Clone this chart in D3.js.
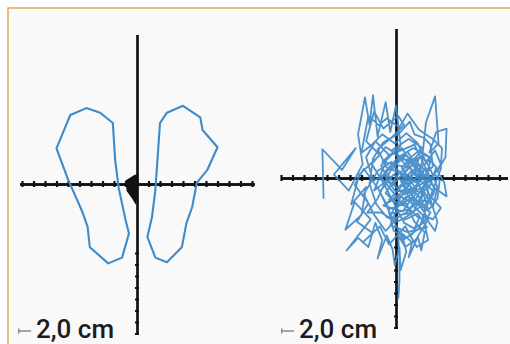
<!DOCTYPE html>
<html>
<head>
<meta charset="utf-8">
<script src="https://cdn.jsdelivr.net/npm/d3@7"></script>
<style>
  body { margin: 0; background: #fff; }
  svg { display: block; }
</style>
</head>
<body>
<svg id="chart" width="510" height="344"></svg>
<script>
// outlines of both feet, in cm-grid units (1 unit = one axis tick)
const leftFoot = [
  [-4.4, 6.6], [-5.8, 6.0], [-7.0, 3.1], [-6.0, 0.4], [-4.8, -2.3], [-4.3, -3.7],
  [-4.1, -5.5], [-2.5, -6.9], [-1.3, -6.4], [-0.7, -4.3], [-1.0, -3.1], [-1.6, -0.3],
  [-1.9, 2.1], [-2.1, 5.3], [-3.2, 6.2]
];
const rightFoot = [
  [4.0, 6.8], [5.5, 5.8], [5.7, 4.7], [7.0, 3.2], [6.1, 1.2], [5.2, 0.1], [4.8, -2.0],
  [4.3, -3.4], [3.9, -5.5], [2.6, -6.8], [1.6, -6.4], [0.9, -4.6], [1.3, -2.9],
  [1.6, -0.5], [2.0, 5.3], [2.6, 6.2]
];
// centre of pressure blob between the feet
const copBlob = [[-0.2, 0.8], [-1.0, 0.3], [-0.9, -0.6], [-0.4, -1.3], [-0.1, -1.8], [0.1, -0.6], [0.1, 0.8]];

// sway trace of the right panel
const swayTrace = [
  [-6.3,-1.8],[-6.4,2.5],[-4.7,0.7],[-3.5,2.6],[-5.4,0.3],[-4.1,-1.1],[-2.9,1.2],[-3.3,3.8],[-2.7,7.0],[-2.3,4.6],
  [-2.0,7.2],[-1.6,3.6],[-0.9,6.6],[-0.5,4.0],[0.0,6.3],[0.4,2.8],[-1.2,1.4],[1.1,0.9],[-0.3,-0.6],[2.0,1.7],
  [0.8,-1.3],[2.6,-0.3],[1.0,2.3],[-1.3,0.1],[0.4,-2.1],[1.9,-1.0],[-0.6,-1.9],[1.5,0.4],[3.0,1.6],[2.2,-1.9],
  [0.2,0.6],[-1.9,-1.1],[-0.7,1.9],[1.6,2.9],[2.9,0.2],[1.2,-2.7],[-0.4,-3.1],[0.9,-0.8],[2.4,-2.9],[3.3,-1.3],
  [1.4,1.2],[-0.9,2.7],[-2.1,1.2],[-1.0,-0.6],[0.6,-3.7],[1.9,-3.1],[2.7,-4.3],[1.0,-4.7],[-0.5,-4.1],[0.2,-2.4],
  [1.6,-1.6],[2.2,1.0],[2.6,4.8],[3.4,7.1],[3.7,3.0],[2.9,2.2],[3.5,4.0],[4.4,4.3],[4.3,1.8],[3.6,0.6],
  [4.2,-0.4],[4.4,-1.6],[3.4,-0.9],[2.3,0.5],[3.1,-2.2],[3.6,-3.8],[3.4,-4.6],[2.6,-3.5],[1.5,-2.4],[0.4,-0.2],
  [1.8,0.9],[0.9,2.0],[-0.2,1.0],[1.3,-0.4],[2.5,0.8],[1.7,-0.9],[0.5,0.9],[1.4,1.9],[2.3,2.6],[1.1,3.4],
  [-0.4,2.4],[0.7,1.3],[2.0,0.2],[0.3,-1.4],[-1.1,-2.4],[0.6,-2.9],[1.3,-1.9],[2.6,-2.0],[1.9,-0.3],[0.8,0.3],
  [-0.8,0.9],[-1.6,2.5],[-0.5,3.4],[0.7,4.6],[0.2,5.4],[-1.1,4.3],[-1.9,5.8],[-2.6,3.2],[-1.4,2.0],[-3.2,0.3],
  [-3.9,-2.3],[-2.6,-0.8],[-3.0,-3.2],[-4.4,-4.5],[-3.6,-2.1],[-2.2,-3.6],[-4.3,-6.3],[-3.3,-5.2],[-2.4,-6.0],[-1.8,-3.9],
  [-1.2,-5.4],[-1.6,-7.0],[-0.8,-5.0],[-0.3,-6.2],[-0.1,-7.6],[0.3,-6.0],[0.4,-8.0],[0.9,-6.4],[0.5,-4.8],[1.4,-5.6],
  [1.1,-6.9],[1.9,-5.1],[2.2,-6.3],[2.5,-4.7],[1.6,-3.8],[0.9,-2.2],[-0.6,-2.7],[-1.4,-1.2],[-0.2,0.3],[1.0,-0.6],
  [2.1,-1.3],[2.9,-0.8],[3.5,0.9],[2.7,2.0],[1.5,2.6],[0.2,1.8],[-0.9,0.6],[0.1,-0.9],[1.2,0.1],[2.0,1.2],
  [2.8,-1.4],[2.1,-2.5],[1.0,-3.3],[0.1,-3.8],[-0.8,-3.4],[-1.7,-2.3],[-2.3,-0.5],[-2.0,1.7],[-1.1,3.1],[0.3,3.9],
  [1.2,4.9],[1.6,3.8],[2.4,3.5],[3.0,2.9],[3.2,1.0],[2.2,-0.1],[1.3,0.6],[0.6,-0.4],[1.7,-2.0],[3.0,-3.0],
  [2.4,-3.9],[1.6,-4.4],[0.7,-3.9],[0.0,-2.6],[0.9,-1.6],[2.1,-2.1],[2.9,-2.7],[3.6,-1.8],[3.8,-0.2],[3.3,0.4],
  [2.5,-0.6],[1.6,0.3],[0.9,1.5],[-0.2,2.2],[-1.3,1.1],[-0.6,-0.3],[0.4,-1.1],[1.5,-0.9],[2.6,0.3],[3.1,1.7],
  [2.1,2.2],[1.0,1.1],[0.1,0.2],[-0.9,-1.3],[-0.2,-2.0],[1.1,-2.6],[2.0,-3.5],[1.4,-4.9],[0.6,-5.4],
  [-1.5,-1.0],[-2.8,0.8],[-3.6,-0.6],[-2.4,-2.2],[-3.4,-3.8],[-2.0,-4.8],[-2.9,-5.6],[-1.4,-4.2],[-0.6,-5.8],[0.8,-4.2],
  [1.8,-6.0],[2.8,-5.4],[2.3,-3.2],[3.2,-3.6],[3.9,-2.6],[3.0,-1.6],[3.9,0.8],[4.0,2.6],[3.2,3.4],[2.0,4.2],
  [1.0,5.6],[0.3,4.4],[-0.8,5.2],[-1.5,4.6],[-2.4,5.4],[-3.0,2.2],[-2.2,2.8],[-1.2,3.8],[-0.1,3.0],[0.9,3.9],
  [1.9,3.0],[2.6,1.4],[3.4,2.4],[3.9,1.2],[3.0,-0.2],[2.2,-0.9],[1.1,-1.2],[-0.1,-1.1],[-1.0,0.2],[-2.0,-0.2],
  [-2.6,1.8],[-1.8,3.2],[-0.6,2.0],[0.5,2.6],[1.3,1.4],[2.2,1.9],[2.9,1.0],[3.6,-0.8],[3.2,-2.6],[2.4,-1.1],
  [1.5,-3.0],[0.4,-3.2],[-0.9,-4.6],[-1.9,-3.2],[-2.8,-1.4],[-1.6,0.6],[-0.4,1.4],[0.6,0.1],[1.8,-0.4],[2.9,-1.9],
  [2.0,-4.4],[0.9,-5.2],[-0.2,-4.6],[-0.8,-2.2],[0.4,-1.6],[1.4,-2.2],[2.4,-2.5],[3.4,-1.0],[2.6,0.6],[1.6,1.6],
  [0.4,1.6],[-0.5,0.6],[-1.6,-1.8],[-2.5,-3.0],[-1.3,-3.0],[-0.3,-3.6],[0.9,-3.0],[1.9,-2.0],[2.8,-3.6],[1.7,-5.4],
  [0.8,-6.0],[0.2,-5.0],[0.3,-7.0],[0.3,-9.0],[0.2,-10.5]
];

const tickUnits = d3.range(-10, 11);
const vTickUnits = d3.range(-13, 14);
const scaleLabel = "2,0 cm";

const svg = d3.select("#chart");
const blue = "#3f8ac9";

// frame
svg.append("rect").attr("x", 8).attr("y", 8).attr("width", 510).attr("height", 344)
  .attr("fill", "#f9f9f9").attr("stroke", "#e2aa5c").attr("stroke-width", 1.5);

const unit = 11.5;
const panels = [
  { cx: 137, cy: 184, xDom: [-10.2, 10.2], yDom: [-13, 13], label: 18 },
  { cx: 396, cy: 178, xDom: [-10, 9.7], yDom: [-13, 13], label: 281 }
];

panels.forEach((p, i) => {
  p.x = d3.scaleLinear().domain(p.xDom).range([p.cx + p.xDom[0] * unit, p.cx + p.xDom[1] * unit]);
  p.y = d3.scaleLinear().domain(p.yDom).range([p.cy - p.yDom[0] * unit, p.cy - p.yDom[1] * unit]);
  const g = svg.append("g");

  const xTicks = tickUnits.filter(t => t >= p.xDom[0] && t <= p.xDom[1]);
  [d3.axisBottom, d3.axisTop].forEach(ax => {
    g.append("g").attr("transform", `translate(0,${p.y(0)})`)
      .call(ax(p.x).tickValues(xTicks).tickSizeInner(3).tickSizeOuter(0).tickFormat(""))
      .call(s => s.select(".domain").attr("stroke", "#111").attr("stroke-width", 2.4))
      .call(s => s.selectAll(".tick line").attr("stroke", "#111").attr("stroke-width", 2.2));
  });
  [d3.axisLeft, d3.axisRight].forEach(ax => {
    g.append("g").attr("transform", `translate(${p.x(0)},0)`)
      .call(ax(p.y).tickValues(vTickUnits.filter(t => t < -5)).tickSizeInner(2).tickSizeOuter(0).tickFormat(""))
      .call(s => s.select(".domain").attr("stroke", "#111").attr("stroke-width", 2.2))
      .call(s => s.selectAll(".tick line").attr("stroke", "#111").attr("stroke-width", 2));
  });

  // scale bar + label
  const lb = g.append("g").attr("transform", `translate(${p.label},331)`);
  lb.append("line").attr("x1", 0).attr("x2", 13).attr("y1", 0).attr("y2", 0)
    .attr("stroke", "#8a8a8a").attr("stroke-width", 1.5);
  lb.append("line").attr("x1", 0.75).attr("x2", 0.75).attr("y1", -2.5).attr("y2", 2.5)
    .attr("stroke", "#8a8a8a").attr("stroke-width", 1.5);
  lb.append("text").attr("x", 18).attr("y", 7)
    .attr("font-family", "Roboto, 'Liberation Sans', sans-serif")
    .attr("font-weight", 500).attr("font-size", 26).attr("fill", "#1c1c1c")
    .text(scaleLabel);
});

const L = panels[0], R = panels[1];
const lineL = d3.line().x(d => L.x(d[0])).y(d => L.y(d[1]));
const lineR = d3.line().x(d => R.x(d[0])).y(d => R.y(d[1]));

[leftFoot, rightFoot].forEach(f => {
  svg.append("path").datum(f).attr("d", d => lineL(d) + "Z")
    .attr("fill", "none").attr("stroke", blue).attr("stroke-width", 2.1).attr("stroke-linejoin", "round");
});
svg.append("path").datum(copBlob).attr("d", d => lineL(d) + "Z").attr("fill", "#111");

svg.append("path").datum(swayTrace).attr("d", lineR)
  .attr("fill", "none").attr("stroke", blue).attr("stroke-width", 1.8)
  .attr("stroke-linejoin", "round").attr("opacity", 0.92);
</script>
</body>
</html>
